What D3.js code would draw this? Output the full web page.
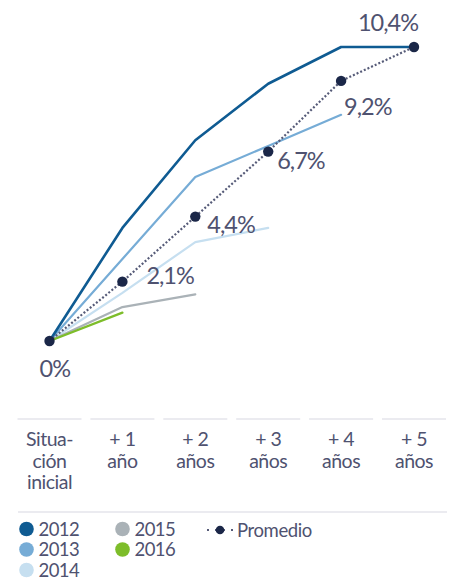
<!DOCTYPE html>
<html>
<head>
<meta charset="utf-8">
<script src="https://cdn.jsdelivr.net/npm/d3@7/dist/d3.min.js"></script>
<style>
  html, body { margin: 0; padding: 0; background: #fff; }
  svg { display: block; }
  text { font-family: Lato, "Open Sans", sans-serif; fill: #4f5270; }
</style>
</head>
<body>
<svg id="chart" width="454" height="578"></svg>
<script>
// ---- data ----
const categories = [
  ["Situa-", "ción", "inicial"],
  ["+ 1", "año"],
  ["+ 2", "años"],
  ["+ 3", "años"],
  ["+ 4", "años"],
  ["+ 5", "años"]
];
const years = ["2012", "2013", "2014", "2015", "2016"];
const s2012 = [0, 4.0, 7.1, 9.1, 10.4, 10.4];
const s2013 = [0, 2.9, 5.8, 6.9, 8.0];
const s2014 = [0, 1.7, 3.5, 4.0];
const s2015 = [0, 1.2, 1.65];
const s2016 = [0, 1.0];
const promedio = [0, 2.1, 4.4, 6.7, 9.2, 10.4];
const promedioLabels = ["0%", "2,1%", "4,4%", "6,7%", "9,2%", "10,4%"];
const promedioName = "Promedio";

// ---- styles ----
const colors = { "2012": "#0f5b92", "2013": "#76acd6", "2014": "#c6dff0", "2015": "#aab2b7", "2016": "#7dbd2a" };
const widths = { "2012": 2.6, "2013": 2.2, "2014": 2.2, "2015": 2.2, "2016": 2.4 };
const navy = "#1b2748";

const seriesList = [
  { name: "2012", values: s2012 },
  { name: "2013", values: s2013 },
  { name: "2014", values: s2014 },
  { name: "2015", values: s2015 },
  { name: "2016", values: s2016 }
];

const svg = d3.select("#chart");

const x = d3.scaleLinear().domain([0, 5]).range([49.5, 414]);
const y = d3.scaleLinear().domain([0, 10.4]).range([341, 47]);

const line = d3.line().x((d, i) => x(i)).y(d => y(d));

const order = ["2014", "2013", "2012", "2015", "2016"];
order.forEach(name => {
  const s = seriesList.find(d => d.name === name);
  svg.append("path")
    .datum(s.values)
    .attr("d", line)
    .attr("fill", "none")
    .attr("stroke", colors[name])
    .attr("stroke-width", widths[name])
    .attr("stroke-linejoin", "round")
    .attr("stroke-linecap", "round");
});

// promedio dotted line
svg.append("path")
  .datum(promedio)
  .attr("d", line)
  .attr("fill", "none")
  .attr("stroke", "#565b78")
  .attr("stroke-width", 2.2)
  .attr("stroke-dasharray", "2,2");

svg.selectAll("circle.prom")
  .data(promedio)
  .enter().append("circle")
  .attr("class", "prom")
  .attr("cx", (d, i) => x(i))
  .attr("cy", d => y(d))
  .attr("r", 5.2)
  .attr("fill", navy);

// value labels
const labelOffsets = [
  { dx: -10, dy: 36, anchor: "start" },
  { dx: 24, dy: 2, anchor: "start" },
  { dx: 12, dy: 16, anchor: "start" },
  { dx: 9, dy: 17, anchor: "start" },
  { dx: 3, dy: 34, anchor: "start" },
  { dx: 4, dy: -16, anchor: "end" }
];
svg.selectAll("text.val")
  .data(promedio)
  .enter().append("text")
  .attr("class", "val")
  .attr("x", (d, i) => x(i) + labelOffsets[i].dx)
  .attr("y", (d, i) => y(d) + labelOffsets[i].dy)
  .attr("text-anchor", (d, i) => labelOffsets[i].anchor)
  .attr("font-size", 23.5)
  .attr("letter-spacing", -1)
  .text((d, i) => promedioLabels[i]);

// category separators + labels
const sepTop = 419;
categories.forEach((lines, i) => {
  const cx = x(i);
  svg.append("line")
    .attr("x1", cx - 32).attr("x2", cx + 32)
    .attr("y1", sepTop).attr("y2", sepTop)
    .attr("stroke", "#e4e5eb").attr("stroke-width", 1.5);
  const t = svg.append("text")
    .attr("text-anchor", "middle")
    .attr("font-size", 19.5)
    .attr("letter-spacing", -0.5);
  lines.forEach((l, j) => {
    t.append("tspan").attr("x", cx).attr("y", 446 + j * 21.5).text(l);
  });
});

svg.append("line")
  .attr("x1", 18).attr("x2", 447)
  .attr("y1", 512).attr("y2", 512)
  .attr("stroke", "#e4e5eb").attr("stroke-width", 1.5);

// legend
const legendPos = [
  { cx: 26.5, cy: 529 }, { cx: 26.5, cy: 549.5 }, { cx: 26.5, cy: 570 },
  { cx: 122.5, cy: 529 }, { cx: 122.5, cy: 549.5 }
];
years.forEach((yr, i) => {
  const p = legendPos[i];
  svg.append("circle").attr("cx", p.cx).attr("cy", p.cy).attr("r", 7.3).attr("fill", colors[yr]);
  svg.append("text").attr("x", p.cx + 12).attr("y", p.cy + 6.5)
    .attr("font-size", 18.5).attr("letter-spacing", -0.6).text(yr);
});
// promedio legend
svg.append("line").attr("x1", 207).attr("x2", 234).attr("y1", 530).attr("y2", 530)
  .attr("stroke", "#565b78").attr("stroke-width", 2.2).attr("stroke-dasharray", "2,6");
svg.append("circle").attr("cx", 220).attr("cy", 530).attr("r", 4.3).attr("fill", navy);
svg.append("text").attr("x", 237).attr("y", 536.5)
  .attr("font-size", 18.5).attr("letter-spacing", -0.4).text(promedioName);
</script>
</body>
</html>
